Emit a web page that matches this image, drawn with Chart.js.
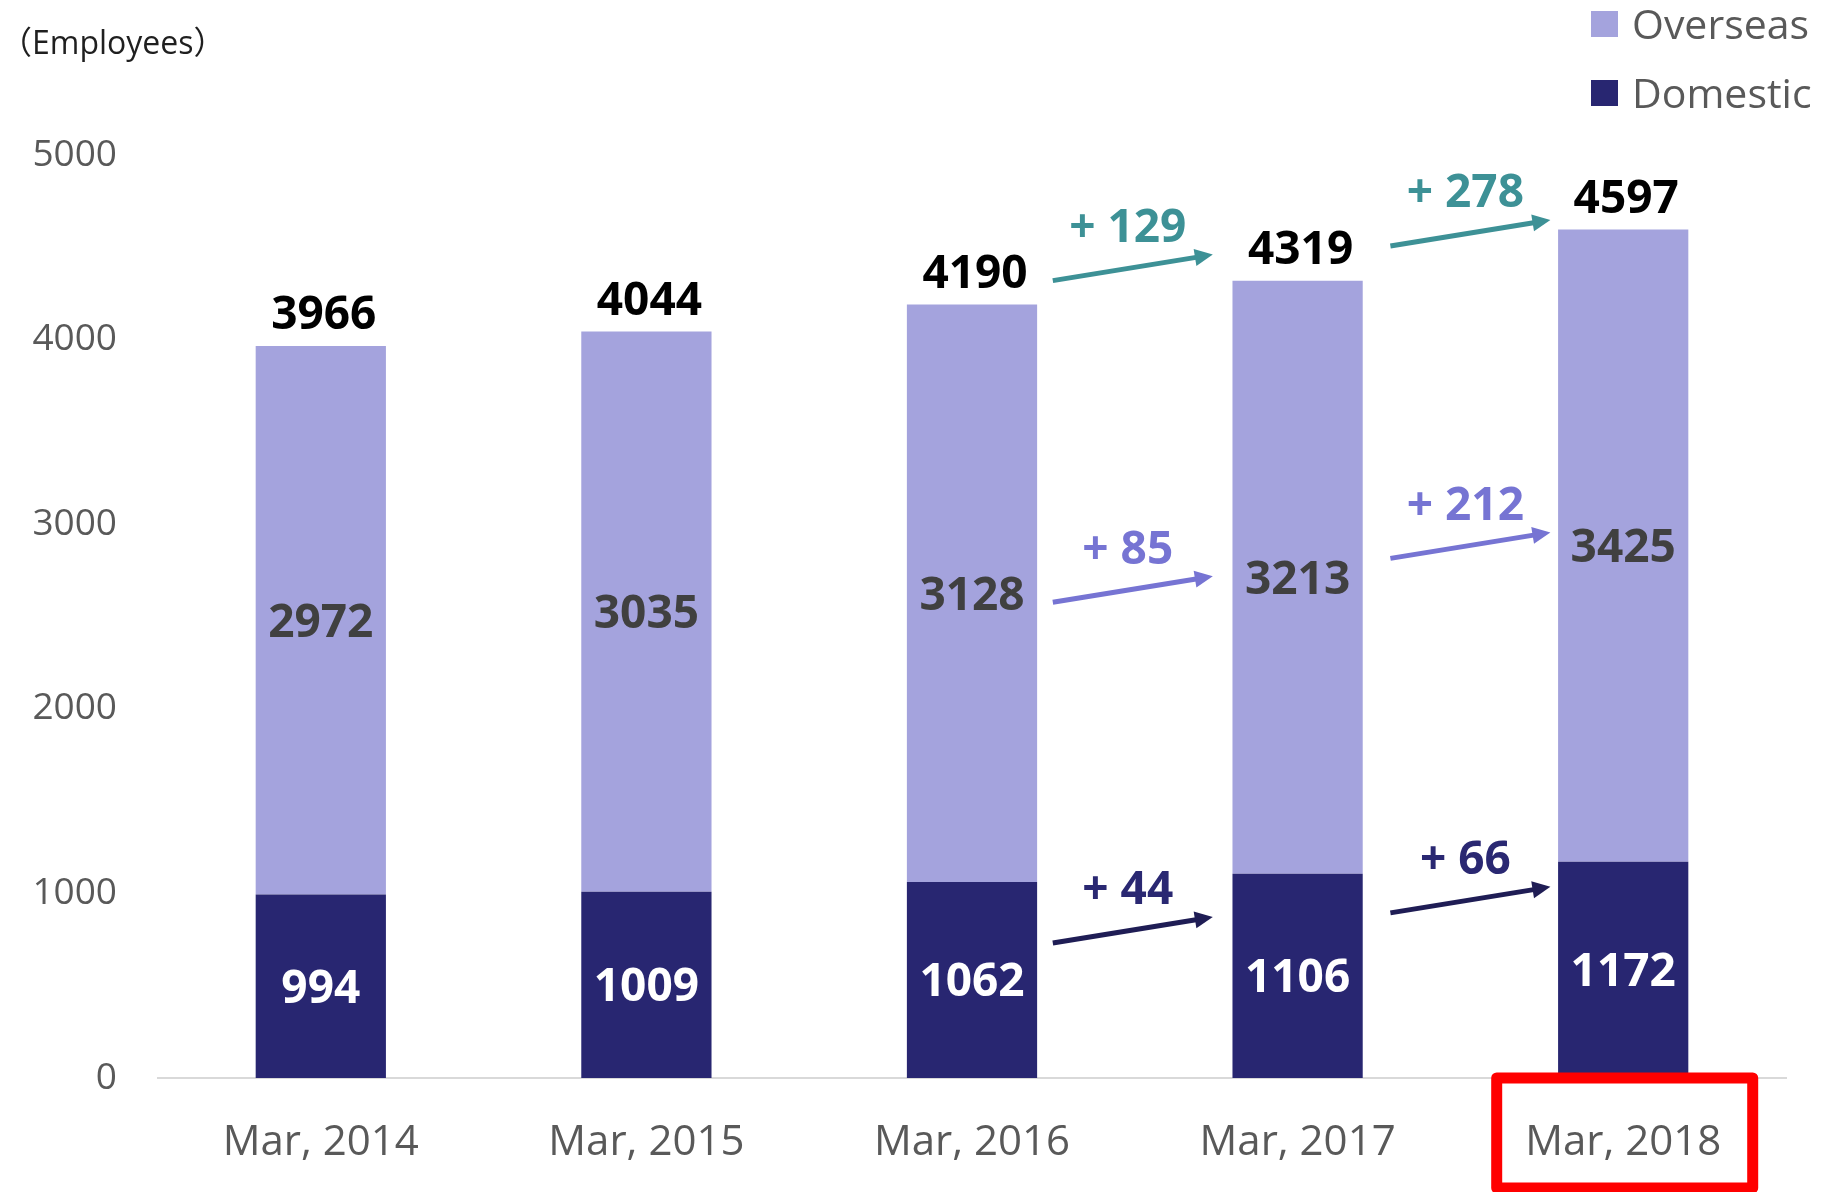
<!DOCTYPE html>
<html>
<head>
<meta charset="utf-8">
<title>Employees</title>
<script src="https://cdn.jsdelivr.net/npm/chart.js@4.4.0/dist/chart.umd.min.js"></script>
<style>
  html, body { margin: 0; padding: 0; background: #fff; }
</style>
</head>
<body>
<canvas id="employeeChart" width="1833" height="1192"></canvas>
<script>
// data
const categories = ['Mar, 2014', 'Mar, 2015', 'Mar, 2016', 'Mar, 2017', 'Mar, 2018'];
const domestic = [994, 1009, 1062, 1106, 1172];
const overseas = [2972, 3035, 3128, 3213, 3425];
const yTicks = [0, 1000, 2000, 3000, 4000, 5000];
const unitLabel = '（Employees）';
const highlightCategory = 'Mar, 2018';
const changeStart = 2; // change arrows drawn from Mar, 2016 on

const totals = domestic.map((d, i) => d + overseas[i]);

const FONT = "'Open Sans', 'Noto Sans CJK JP', sans-serif";
const Colors = {
  overseas: '#a4a3dd',
  domestic: '#282671',
  tick: '#595959',
  teal: '#3d9196',
  purple: '#7674d3',
  navyArrow: '#1f1d55',
  navyText: '#2a2872'
};

// text centred on the visual middle of the digits
function drawText(ctx, text, x, cy, size, color, weight) {
  ctx.save();
  ctx.font = `${weight || 'bold'} ${size}px ${FONT}`;
  ctx.fillStyle = color;
  ctx.textAlign = 'center';
  ctx.textBaseline = 'alphabetic';
  ctx.fillText(text, x, cy + size * 0.357);
  ctx.restore();
}

function drawArrow(ctx, x1, y1, x2, y2, color) {
  const ang = Math.atan2(y2 - y1, x2 - x1);
  const headLen = 18, headHalf = 8.5;
  const bx = x2 - headLen * Math.cos(ang), by = y2 - headLen * Math.sin(ang);
  ctx.save();
  ctx.strokeStyle = color;
  ctx.fillStyle = color;
  ctx.lineWidth = 5;
  ctx.beginPath();
  ctx.moveTo(x1, y1);
  ctx.lineTo(bx + Math.cos(ang), by + Math.sin(ang));
  ctx.stroke();
  ctx.beginPath();
  ctx.moveTo(x2, y2);
  ctx.lineTo(bx + headHalf * Math.sin(ang), by - headHalf * Math.cos(ang));
  ctx.lineTo(bx - headHalf * Math.sin(ang), by + headHalf * Math.cos(ang));
  ctx.closePath();
  ctx.fill();
  ctx.restore();
}

const valueLabels = {
  id: 'valueLabels',
  afterDatasetsDraw(chart) {
    const ctx = chart.ctx;
    const domMeta = chart.getDatasetMeta(0);
    const ovMeta = chart.getDatasetMeta(1);
    categories.forEach((c, i) => {
      const d = domMeta.data[i], o = ovMeta.data[i];
      drawText(ctx, String(domestic[i]), d.x, (d.y + d.base) / 2, 46, '#ffffff');
      drawText(ctx, String(overseas[i]), o.x, (o.y + o.base) / 2, 46, '#404040');
      drawText(ctx, String(totals[i]), o.x + 3, o.y - 33, 46, '#000000');
    });
  }
};

// arrows sit between two bars, at the mean height of the segment they compare
const changeArrows = {
  id: 'changeArrows',
  afterDatasetsDraw(chart) {
    const ctx = chart.ctx;
    const x = chart.scales.x, y = chart.scales.y;
    const groups = [
      { series: totals, level: i => y.getPixelForValue(totals[i]), shift: -25, drift: 3, line: Colors.teal, text: Colors.teal },
      { series: overseas, level: i => y.getPixelForValue(domestic[i] + overseas[i] / 2), shift: 4, drift: -20, line: Colors.purple, text: Colors.purple },
      { series: domestic, level: i => y.getPixelForValue(domestic[i] / 2), shift: -48, drift: -25, line: Colors.navyArrow, text: Colors.navyText }
    ];
    for (let i = changeStart; i < categories.length - 1; i++) {
      const step = i - changeStart;
      const midX = (x.getPixelForValue(i) + x.getPixelForValue(i + 1)) / 2 - 2 + 12 * step;
      groups.forEach(g => {
        const midY = (g.level(i) + g.level(i + 1)) / 2 + g.shift + g.drift * step;
        drawArrow(ctx, midX - 80, midY + 13, midX + 80, midY - 13, g.line);
        drawText(ctx, '+ ' + (g.series[i + 1] - g.series[i]), midX - 5, midY - 42, 46, g.text);
      });
    }
  }
};

const sideLegend = {
  id: 'sideLegend',
  afterDraw(chart) {
    const ctx = chart.ctx;
    const items = chart.data.datasets.slice().reverse();
    ctx.save();
    items.forEach((ds, k) => {
      const cy = 24 + k * 69;
      ctx.fillStyle = ds.backgroundColor;
      ctx.fillRect(chart.width - 242, cy - 13, 27, 26);
      ctx.font = `41px ${FONT}`;
      ctx.fillStyle = Colors.tick;
      ctx.textAlign = 'left';
      ctx.textBaseline = 'alphabetic';
      ctx.fillText(ds.label, chart.width - 201, cy + 41 * 0.357);
    });
    ctx.restore();
  }
};

const highlightBox = {
  id: 'highlightBox',
  afterDraw(chart) {
    const idx = categories.indexOf(highlightCategory);
    if (idx < 0) return;
    const ctx = chart.ctx;
    const cx = chart.scales.x.getPixelForValue(idx) + 1.5;
    const top = chart.chartArea.bottom;
    const bottom = chart.height - 4;
    ctx.save();
    ctx.strokeStyle = '#ff0000';
    ctx.lineWidth = 11;
    ctx.lineJoin = 'round';
    ctx.strokeRect(cx - 128, top, 256, bottom - top);
    ctx.restore();
  }
};

const ctx = document.getElementById('employeeChart').getContext('2d');
const employeeChart = new Chart(ctx, {
  type: 'bar',
  data: {
    labels: categories,
    datasets: [
      { label: 'Domestic', data: domestic, backgroundColor: Colors.domestic, borderWidth: 0 },
      { label: 'Overseas', data: overseas, backgroundColor: Colors.overseas, borderWidth: 0 }
    ]
  },
  options: {
    responsive: false,
    animation: false,
    devicePixelRatio: 1,
    categoryPercentage: 1,
    barPercentage: 0.4,
    layout: { padding: { left: 0, right: 47, top: 0, bottom: 0 } },
    plugins: {
      legend: { display: false },
      tooltip: { enabled: false },
      title: {
        display: true,
        text: unitLabel,
        align: 'start',
        color: '#1f1f1f',
        font: { family: FONT, size: 32, weight: 'normal', lineHeight: 1.2 },
        padding: { top: 26, bottom: 90.6 }
      }
    },
    scales: {
      x: {
        stacked: true,
        grid: { display: false, drawTicks: false },
        border: { display: true, color: '#d9d9d9', width: 2 },
        ticks: {
          color: Colors.tick,
          font: { family: FONT, size: 42, lineHeight: 1.2 },
          padding: 40,
          maxRotation: 0,
          autoSkip: false
        },
        afterFit(scale) { scale.height = 114; }
      },
      y: {
        stacked: true,
        min: 0,
        max: 5000,
        grid: { display: false, drawTicks: false },
        border: { display: false },
        ticks: {
          color: Colors.tick,
          font: { family: FONT, size: 37 },
          padding: 41,
          callback: v => String(v)
        },
        afterBuildTicks(scale) { scale.ticks = yTicks.map(v => ({ value: v })); },
        afterFit(scale) { scale.width = 158; }
      }
    }
  },
  plugins: [valueLabels, changeArrows, sideLegend, highlightBox]
});
</script>
</body>
</html>
